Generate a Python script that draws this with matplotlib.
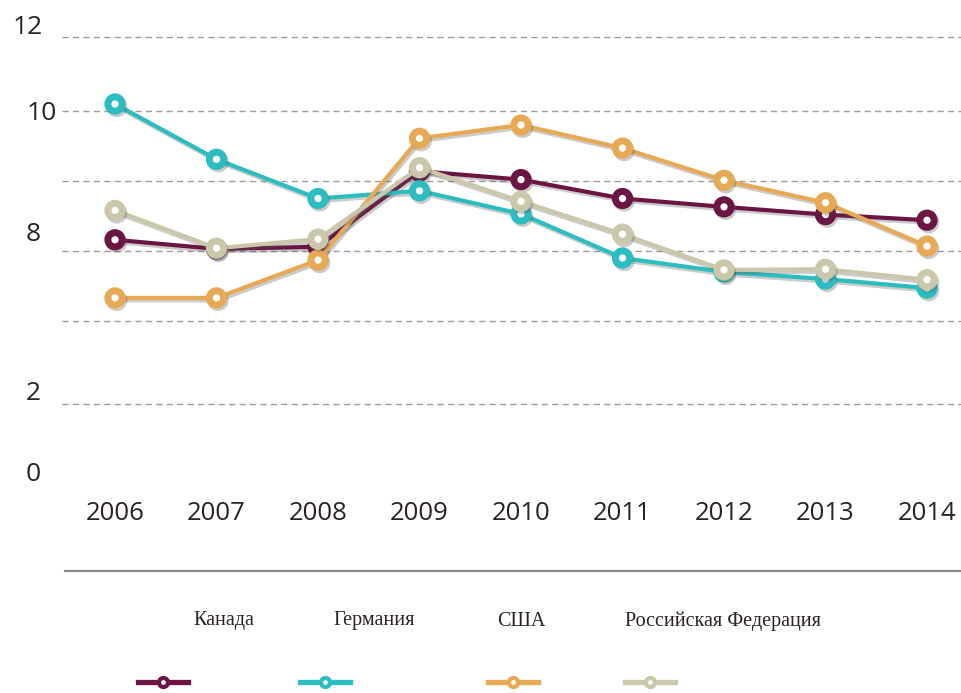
import numpy as np
import matplotlib
matplotlib.use('Agg')
import matplotlib.pyplot as plt
import matplotlib.patheffects as pe
import matplotlib.transforms as mtransforms

years = [2006, 2007, 2008, 2009, 2010, 2011, 2012, 2013, 2014]

# values (axis of the original is irregular)
canada = [8.16, 8.03, 8.06, 9.14, 9.02, 8.75, 8.63, 8.52, 8.44]
germany = [10.10, 9.31, 8.75, 8.86, 8.53, 7.90, 7.70, 7.60, 7.47]
usa = [7.33, 7.33, 7.87, 9.61, 9.80, 9.47, 9.01, 8.69, 8.07]
russia = [8.58, 8.04, 8.17, 9.19, 8.71, 8.24, 7.73, 7.74, 7.59]

names = ['Канада', 'Германия', 'США', 'Российская Федерация']
colors = ['#6b1545', '#2bbdbf', '#e8a955', '#cbc7ab']

ytick_labels = ['12', '10', '8', '2', '0']
ytick_pos = [11.19, 9.96, 8.24, 5.96, 4.81]
ytick_x = [13, 27, 26, 26, 26]          # left edge in pixels
grid_pos = [11.057, 9.993, 9.0, 8.0, 7.0, 5.814]

sans = ['Open Sans', 'DejaVu Sans']
serif = ['Liberation Serif', 'DejaVu Serif']
txt_col = '#2b2222'

W, H = 961, 693
fig = plt.figure(figsize=(W / 100, H / 100), dpi=100)
ax = fig.add_axes([62 / W, 1 - 490 / H, (W - 62) / W, 490 / H])
ax.set_xlim(2006 - 53 / 101.5, 2014 + 34 / 101.5)
ax.set_ylim(8 - 239 / 70, 8 + 251 / 70)

for g in grid_pos:
    ax.axhline(g, color='#a39c9c', lw=1.0, ls=(0, (4.5, 3)), zorder=1)

shadow = [pe.SimpleLineShadow(offset=(1.2, -1.8), shadow_color='#555555', alpha=0.3),
          pe.Normal()]
for vals, c in zip([canada, germany, usa, russia], colors):
    ax.plot(years, vals, color=c, lw=3.0, marker='o', ms=10.3, mew=5.0,
            mfc='white', mec=c, zorder=3, path_effects=shadow, solid_joinstyle='round')

for s in ax.spines.values():
    s.set_visible(False)
ax.set_yticks([])
ax.set_xticks(years)
ax.set_xticklabels([str(y) for y in years], family=sans, fontsize=18.5, color=txt_col)
ax.tick_params(axis='x', length=0, pad=8)

tr = mtransforms.blended_transform_factory(fig.transFigure, ax.transData)
for lab, yp, xp in zip(ytick_labels, ytick_pos, ytick_x):
    ax.text(xp / W, yp, lab, transform=tr, ha='left', va='center',
            family=sans, fontsize=19, color=txt_col, clip_on=False)

# separator line
fig.add_artist(plt.Line2D([65 / W, 1], [1 - 571 / H] * 2, color='#8e8585', lw=1.6))

# legend: label above a line sample
leg_text_x = [193, 333, 497, 625]
leg_line_c = [163, 325, 513, 650]
for name, c, tx, lc in zip(names, colors, leg_text_x, leg_line_c):
    fig.text(tx / W, 1 - 621 / H, name, ha='left', va='center', family=serif,
             fontsize=14.5, color=txt_col)
    fig.add_artist(plt.Line2D([(lc - 25) / W, (lc + 25) / W], [1 - 682 / H] * 2,
                              color=c, lw=3.8, zorder=2))
    fig.add_artist(plt.Line2D([lc / W], [1 - 682 / H], color=c, marker='o', ms=6.5,
                              mew=3.0, mfc='white', mec=c, zorder=3))

fig.savefig('out.png', dpi=100, facecolor='white')
